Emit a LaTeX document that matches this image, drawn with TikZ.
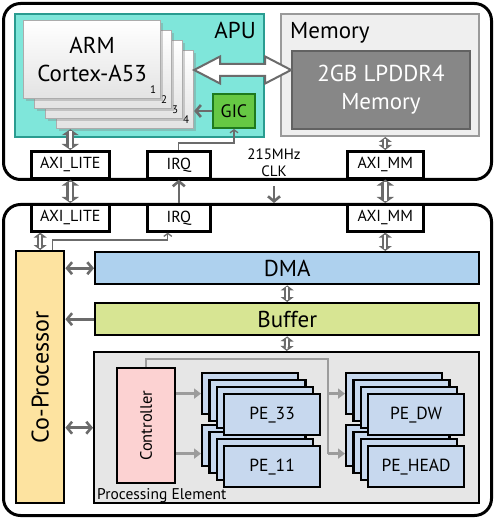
\documentclass[tikz,border=0pt]{standalone}
\usepackage{fontspec}
\setmainfont{PT Sans}
\usepackage{tikz}
\usetikzlibrary{arrows.meta,shapes.arrows,positioning,calc,shadows}
\definecolor{apTeal}{HTML}{7FE6DA}
\definecolor{apTealDk}{HTML}{2A9C90}
\definecolor{apGic}{HTML}{66C844}
\definecolor{apGicDk}{HTML}{1E7A1E}
\definecolor{apMemBg}{HTML}{EFEFEF}
\definecolor{apMemLn}{HTML}{9A9A9A}
\definecolor{apMemIn}{HTML}{878787}
\definecolor{apMemInLn}{HTML}{626262}
\definecolor{apArrow}{HTML}{6B6B6B}
\definecolor{apArrowLt}{HTML}{9C9C9C}
\definecolor{apDma}{HTML}{AED1EE}
\definecolor{apBuf}{HTML}{D7E593}
\definecolor{apCop}{HTML}{FDE3A0}
\definecolor{apPe}{HTML}{E6E6E6}
\definecolor{apCtrl}{HTML}{FCD2D2}
\definecolor{apCard}{HTML}{C7D8EE}

\begin{document}
\begin{tikzpicture}[
      x=1pt, y=-1pt,
      font=\fontsize{23}{28}\selectfont,
      board/.style={anchor=north west, inner sep=0pt, draw=black, line width=3pt, rounded corners=17pt},
      unit/.style={anchor=north west, inner sep=0pt, align=center, draw=black, line width=2.4pt},
      cpucard/.style={unit, minimum width=137pt, minimum height=78pt, draw=gray!65, line width=1.2pt,
                  top color=white, bottom color=gray!22,
                  drop shadow={shadow xshift=2pt, shadow yshift=-2pt, opacity=0.35}},
      cardnum/.style={anchor=south east, inner sep=0pt, font=\fontsize{11}{12}\selectfont},
      port/.style={unit, fill=white, line width=2.6pt, minimum height=27pt,
                  font=\fontsize{16}{18}\selectfont},
      pecard/.style={unit, fill=apCard, line width=2.2pt, minimum width=96pt, minimum height=41pt,
                  font=\fontsize{17.5}{20}\selectfont},
      bus/.style={double arrow, draw=apArrow, fill=white, line width=2pt, inner xsep=0pt,
                  inner ysep=5pt, double arrow head extend=7.5pt, double arrow tip angle=55,
                  minimum height=97pt},
      fatdbl/.style={draw=apArrow, line width=8pt,
                  {Triangle[width=17pt,length=6pt]}-{Triangle[width=17pt,length=6pt]},
                  postaction={draw=white, line width=2.4pt, -, shorten <=2pt, shorten >=2pt}},
      slimdbl/.style={draw=apArrow, line width=6pt,
                  {Triangle[width=13pt,length=5pt]}-{Triangle[width=13pt,length=5pt]},
                  postaction={draw=white, line width=1.8pt, -, shorten <=2pt, shorten >=2pt}},
      barb/.style={draw=apArrow, line width=2.6pt, -{Straight Barb[length=5pt,width=12pt]}},
      dblbarb/.style={barb, {Straight Barb[length=5pt,width=12pt]}-{Straight Barb[length=5pt,width=12pt]}},
      wire/.style={draw=apArrow, line width=1.3pt, -{Straight Barb[length=3pt,width=8pt]}},
      feed/.style={draw=apArrowLt, line width=2pt},
      ctrlarr/.style={draw=apArrowLt, line width=2.6pt, -{Triangle[length=7pt,width=10pt]}},
    ]
    \useasboundingbox (0,0) rectangle (494,518);

    % ---------- frames ----------
    \node[board, minimum width=488pt, minimum height=176pt] (host) at (2,2) {};
    \node[board, minimum width=488pt, minimum height=311pt] (fpga) at (2,203) {};

    % ---------- APU ----------
    \node[unit, fill=apTeal, draw=apTealDk, line width=2pt, minimum width=249pt, minimum height=123pt] (apu) at (14,13) {};
    \node[anchor=base east, inner sep=0pt] (apulbl) at (256,39) {APU};

    \foreach \k in {4,3,2} {
      \node[cpucard] (cpu\k) at ({23+11*(\k-1)},{20+10*(\k-1)}) {};
      \node[cardnum] at ([xshift=-5pt,yshift=5pt]cpu\k.south east) {\k};
    }
    \node[cpucard] (cpu1) at (23,20) {ARM\\Cortex-A53};
    \node[cardnum] at ([xshift=-5pt,yshift=5pt]cpu1.south east) {1};

    \node[unit, fill=apGic, draw=apGicDk, line width=2pt, minimum width=42pt, minimum height=34pt,
          font=\fontsize{18}{20}\selectfont] (gic) at (212,93) {GIC};
    \draw[barb] (gic.west) -- (cpu4.east |- gic.west);

    % ---------- memory ----------
    \node[unit, fill=apMemBg, draw=apMemLn, line width=2pt, minimum width=198pt, minimum height=122pt] (mem) at (280,13) {};
    \node[anchor=base west, inner sep=0pt] (memlbl) at (290,39) {Memory};
    \node[unit, fill=apMemIn, draw=apMemInLn, line width=2pt, minimum width=178pt, minimum height=78pt,
          text=white] (dram) at (291,50) {2GB LPDDR4\\Memory};

    \coordinate (busL) at (cpu4.east |- 0,70);
    \coordinate (busR) at (dram.west |- 0,70);
    \node[bus] (busarr) at ($(busL)!0.5!(busR)$) {};

    % ---------- interfaces ----------
    \node[port, minimum width=78pt] (liteA) at (30,150)  {AXI\_LITE};
    \node[port, minimum width=63pt] (irqA)  at (146,150) {IRQ};
    \node[port, minimum width=76pt] (mmA)   at (346,150) {AXI\_MM};
    \node[port, minimum width=78pt] (liteB) at (30,203)  {AXI\_LITE};
    \node[port, minimum width=63pt] (irqB)  at (146,203) {IRQ};
    \node[port, minimum width=76pt] (mmB)   at (346,203) {AXI\_MM};

    \node[align=center, inner sep=0pt, font=\fontsize{15}{17}\selectfont] (clk) at (274,163) {215MHz\\CLK};
    \draw[barb, shorten <=5pt] (clk.south |- host.south) -- (clk.south |- fpga.north);

    \draw[fatdbl]  (liteA.north |- cpu4.south) -- (liteA.north);
    \draw[fatdbl]  (liteA.south) -- (liteB.north);
    \draw[slimdbl] (mmA.north |- mem.south) -- (mmA.north);
    \draw[fatdbl]  (mmA.south) -- (mmB.north);
    \draw[barb]    (irqB.north) -- (irqA.south);
    \draw[wire]    (irqA.north) -- ++(0,-7) -| (gic.south);

    % ---------- accelerator ----------
    \node[unit, fill=apCop, minimum width=48pt, minimum height=252pt] (cop) at (15,250) {};
    \node[rotate=90, inner sep=0pt, font=\fontsize{24}{28}\selectfont] (coplbl) at (cop) {Co-Processor};

    \node[unit, fill=apDma, minimum width=384pt, minimum height=32pt] (dma) at (94,251) {DMA};
    \node[unit, fill=apBuf, minimum width=384pt, minimum height=32pt] (buf) at (94,302) {Buffer};
    \node[unit, fill=apPe,  minimum width=385pt, minimum height=151pt] (pe) at (93,351) {};
    \node[anchor=base west, inner sep=0pt, font=\fontsize{15.5}{17}\selectfont] (pelbl)
      at ([xshift=4pt,yshift=5pt]pe.south west) {Processing Element};

    \draw[slimdbl] (cop.north |- liteB.south) -- (cop.north);
    \draw[slimdbl] (mmB.south) -- (mmB.south |- dma.north);
    \draw[slimdbl] (dma.south) -- (buf.north);
    \draw[slimdbl] (buf.south) -- (pe.north);
    \draw[dblbarb] (cop.east |- dma.west) -- (dma.west);
    \draw[barb]    (buf.west) -- (cop.east |- buf.west);
    \draw[dblbarb] (cop.east |- pe.west) -- (pe.west);

    \coordinate (irqtap) at ([xshift=12pt]cop.north);
    \draw[wire] (irqtap) -- ++(0,-10) -| ([xshift=-11pt]irqB.south);

    % ---------- processing elements ----------
    \node[unit, fill=apCtrl, line width=2.2pt, minimum width=58pt, minimum height=115pt] (ctrl) at (116,367) {};
    \node[rotate=90, inner sep=0pt, font=\fontsize{16.5}{18}\selectfont] (ctrllbl) at (ctrl) {Controller};

    \foreach \i in {0,1,2} {
      \node[pecard] (pe11-\i) at ({201+7.3*\i},{424+7*\i}) {};
    }
    \node[pecard] (pe11) at (223,445) {PE\_11};
    \foreach \i in {0,1,2} {
      \node[pecard] (pe33-\i) at ({201+7.3*\i},{372+7*\i}) {};
    }
    \node[pecard] (pe33) at (223,393) {PE\_33};
    \foreach \i in {0,1,2} {
      \node[pecard] (pehd-\i) at ({345+7.3*\i},{424+7*\i}) {};
    }
    \node[pecard] (pehd) at (367,445) {PE\_HEAD};
    \foreach \i in {0,1,2} {
      \node[pecard] (pedw-\i) at ({345+7.3*\i},{372+7*\i}) {};
    }
    \node[pecard] (pedw) at (367,393) {PE\_DW};

    \path (pe11-0.west) ++(0,8) coordinate (pe11in);
    \draw[ctrlarr] (ctrl.east |- pe33-0.west) -- (pe33-0.west);
    \draw[ctrlarr] (ctrl.east |- pe11in) -- (pe11in);

    \path (pedw-0.west) ++(-17,0) coordinate (forkA);
    \path (pehd-0.west) ++(-17,8) coordinate (forkB);
    \draw[feed] (ctrl.north) -- ++(0,-8) -| (forkB);
    \draw[ctrlarr] (forkA) -- (pedw-0.west);
    \draw[ctrlarr] (forkB) -- (pehd-0.west |- forkB);

  \end{tikzpicture}
\end{document}
